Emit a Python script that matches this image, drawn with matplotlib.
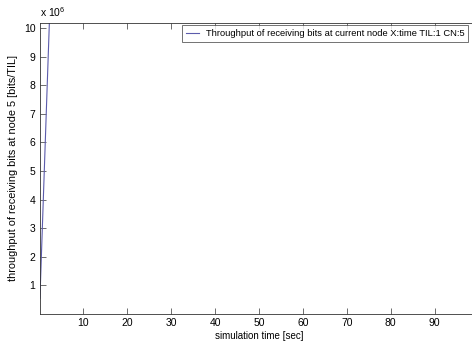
import numpy as np
import matplotlib.pyplot as plt

plt.rcParams['font.family'] = ['Liberation Sans', 'DejaVu Sans']
plt.rcParams['mathtext.default'] = 'regular'

# simulation time [sec] and received-bit throughput [bits/TIL]
sim_time = [0.1, 1.0, 1.6, 2.25, 100.0]
throughput = [0.55e6, 4.6e6, 7.3e6, 10.2e6, 10.2e6]

xticks = [10, 20, 30, 40, 50, 60, 70, 80, 90]
yticks = [1, 2, 3, 4, 5, 6, 7, 8, 9, 10]

fig = plt.figure(figsize=(4.72, 3.43), dpi=100)
# the original figure is cut off on the right, so the axes run past the edge
ax = fig.add_axes([39.5 / 472, 29 / 343, 439 / 472, 291.3 / 343])

ax.plot(sim_time, np.array(throughput) / 1e6, color='#5c5cac', lw=0.8,
        label='Throughput of receiving bits at current node X:time TIL:1 CN:5')

ax.set_xlim(0, 100)
ax.set_ylim(0, 10.19)
ax.set_xticks(xticks)
ax.set_yticks(yticks)
ax.tick_params(direction='in', length=4, width=0.5, labelsize=7.5,
               top=True, right=False, pad=3, color='#333333')
for s in ax.spines.values():
    s.set_linewidth(0.6)
    s.set_color('#333333')
ax.spines['right'].set_visible(False)

ax.set_xlabel('simulation time [sec]', fontsize=7, labelpad=2)
ax.set_ylabel('throughput of receiving bits at node 5 [bits/TIL]', fontsize=7.8, labelpad=4)
ax.text(0.0, 1.012, r'x 10$^{6}$', transform=ax.transAxes, fontsize=7.5,
        ha='left', va='bottom')

leg = ax.legend(loc='upper right', bbox_to_anchor=(431 / 439, 1.0), fontsize=6.75,
                frameon=True, fancybox=False, borderpad=0.4, handlelength=1.4,
                handletextpad=0.7, borderaxespad=0.25)
leg.get_frame().set_edgecolor('#333333')
leg.get_frame().set_linewidth(0.6)

fig.savefig('out.png', dpi=100, facecolor='white')
